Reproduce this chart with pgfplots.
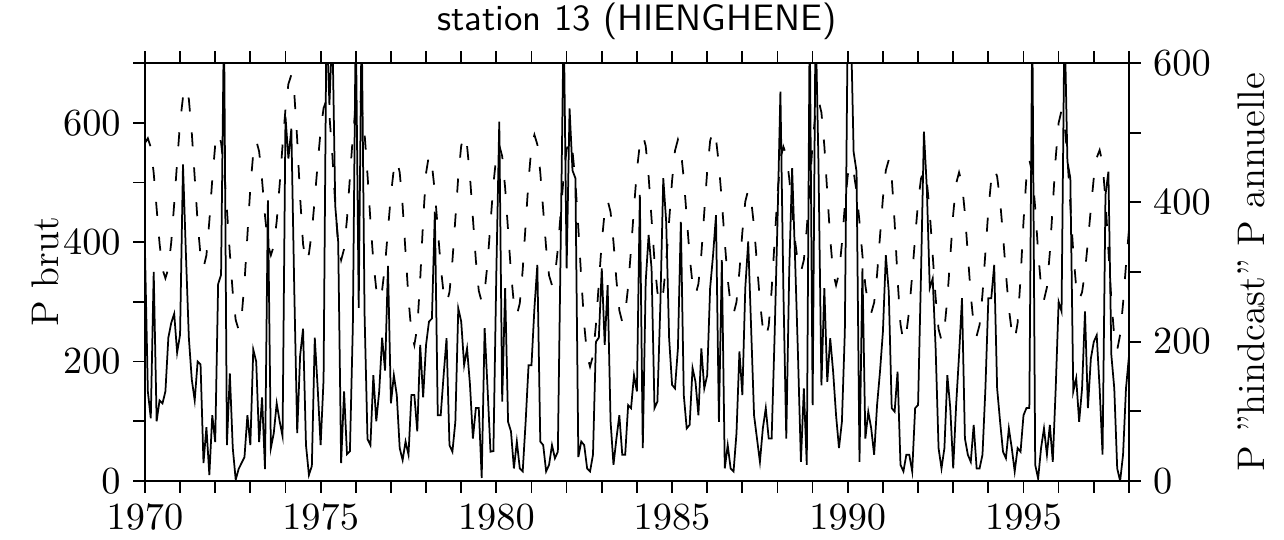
\documentclass[border=0pt]{standalone}
\usepackage{pgfplots}
\pgfplotsset{compat=1.18}
\usepackage{pgfplotstable}

% monthly rainfall, Jan 1970 .. Jan 1998 (left axis)
\pgfplotstableread[row sep=\\]{
rain\\
390\\150\\105\\350\\100\\135\\130\\150\\240\\265\\280\\215\\
245\\530\\380\\240\\170\\135\\200\\195\\30\\90\\10\\110\\
65\\330\\345\\780\\60\\180\\55\\2\\20\\30\\40\\110\\
60\\220\\200\\65\\140\\20\\470\\55\\80\\130\\100\\75\\
610\\540\\590\\320\\80\\210\\255\\60\\10\\25\\240\\155\\
60\\170\\780\\630\\760\\460\\400\\30\\150\\45\\50\\260\\
780\\290\\780\\280\\70\\60\\177\\100\\150\\240\\185\\360\\
130\\177\\144\\55\\35\\66\\44\\144\\144\\83\\228\\140\\
228\\267\\272\\451\\110\\110\\177\\239\\60\\49\\99\\289\\
267\\194\\222\\161\\71\\122\\122\\5\\256\\155\\49\\50\\
350\\602\\133\\323\\99\\83\\21\\66\\21\\16\\99\\194\\
194\\289\\362\\66\\60\\16\\27\\60\\38\\49\\406\\780\\
356\\624\\520\\507\\40\\66\\60\\21\\16\\44\\233\\240\\
356\\228\\328\\100\\27\\71\\110\\44\\44\\127\\122\\177\\
150\\479\\55\\334\\412\\356\\122\\133\\295\\507\\434\\239\\
161\\155\\222\\434\\144\\88\\94\\189\\166\\110\\222\\155\\
177\\323\\378\\445\\99\\370\\21\\60\\21\\16\\80\\217\\
144\\323\\401\\256\\110\\71\\32\\88\\122\\71\\71\\240\\
434\\652\\323\\71\\350\\524\\373\\211\\32\\155\\27\\780\\
127\\780\\530\\160\\323\\166\\239\\183\\110\\55\\99\\250\\
780\\780\\551\\518\\32\\356\\71\\116\\88\\44\\127\\183\\
250\\378\\317\\122\\116\\183\\27\\16\\44\\44\\16\\122\\
127\\345\\585\\490\\323\\339\\222\\55\\21\\55\\177\\122\\
21\\127\\211\\306\\71\\44\\32\\94\\21\\21\\44\\155\\
306\\306\\362\\155\\100\\49\\38\\88\\55\\16\\55\\49\\
110\\122\\122\\780\\27\\4\\55\\88\\44\\94\\32\\155\\
300\\284\\780\\535\\507\\150\\172\\99\\155\\284\\122\\205\\
233\\244\\155\\44\\479\\518\\211\\155\\21\\0\\44\\155\\
208\\
}\rain

% annual cycle "hindcast" (right axis)
\pgfplotstableread[row sep=\\]{
hind\\
485\\492\\479\\442\\391\\341\\304\\291\\305\\343\\398\\458\\
514\\551\\565\\548\\500\\436\\371\\323\\306\\324\\373\\433\\
482\\500\\486\\447\\390\\327\\270\\231\\217\\235\\285\\353\\
421\\471\\489\\473\\432\\381\\340\\324\\337\\373\\425\\482\\
534\\570\\583\\557\\490\\407\\340\\314\\326\\358\\405\\456\\
503\\535\\547\\525\\468\\396\\339\\317\\333\\376\\436\\495\\
538\\554\\539\\499\\440\\374\\315\\275\\260\\274\\310\\361\\
411\\448\\461\\443\\395\\328\\262\\213\\195\\221\\289\\374\\
442\\468\\454\\415\\362\\308\\269\\255\\271\\316\\376\\437\\
481\\497\\481\\437\\377\\317\\273\\257\\272\\313\\370\\426\\
467\\482\\466\\421\\360\\299\\254\\238\\255\\303\\368\\432\\
480\\497\\483\\443\\389\\335\\295\\281\\295\\333\\386\\438\\
476\\490\\474\\429\\363\\291\\225\\180\\164\\180\\224\\284\\
343\\387\\403\\386\\343\\288\\245\\228\\241\\279\\333\\392\\
446\\484\\497\\481\\437\\376\\316\\271\\255\\271\\314\\373\\
431\\474\\490\\475\\434\\379\\323\\282\\267\\283\\326\\386\\
445\\488\\504\\491\\454\\401\\343\\290\\253\\240\\257\\301\\
357\\401\\418\\404\\365\\312\\258\\219\\205\\223\\274\\343\\
411\\462\\480\\468\\435\\390\\345\\312\\300\\317\\362\\424\\
485\\530\\547\\529\\481\\414\\348\\299\\281\\298\\341\\395\\
439\\455\\444\\415\\372\\324\\281\\252\\241\\256\\296\\351\\
406\\446\\461\\436\\371\\290\\225\\200\\212\\246\\296\\350\\
400\\434\\446\\430\\385\\324\\263\\218\\202\\218\\262\\322\\
383\\427\\443\\427\\384\\325\\267\\224\\208\\224\\268\\328\\
389\\433\\449\\437\\403\\353\\298\\248\\214\\202\\227\\291\\
372\\436\\461\\442\\392\\329\\279\\260\\278\\328\\396\\464\\
514\\532\\514\\464\\396\\328\\278\\260\\271\\300\\344\\391\\
435\\464\\475\\456\\403\\331\\260\\207\\188\\210\\255\\310\\
360\\
}\hind

\begin{document}
\begin{tikzpicture}
\path[use as bounding box] (-41.4pt,-16.6pt) rectangle (325.4pt,137.4pt);
\pgfplotsset{
  every axis/.append style={
    scale only axis, width=281.1pt, height=119.4pt,
    xmin=1970, xmax=1998,
    tick align=outside,
    major tick length=3.4pt, minor tick length=3.4pt,
    every tick/.style={black, line width=0.5pt},
    axis line style={line width=0.6pt},
    tick label style={font=\fontsize{11}{13}\selectfont},
    label style={font=\fontsize{11}{13}\selectfont},
  }
}
\begin{axis}[
  ymin=0, ymax=700,
  xtick={1970,1975,...,1995},
  minor xtick={1970,...,1998},
  xticklabel style={/pgf/number format/1000 sep={}},
  ytick={0,200,400,600},
  minor ytick={100,300,500,700},
  ytick pos=left,
  ylabel={P brut},
  ylabel style={at={(axis description cs:-0.1017,0.5)}, anchor=center},
  clip mode=individual,
]
\addplot[black, line width=0.5pt] table[x expr=1970+\coordindex/12, y=rain]{\rain};
\node[font=\sffamily\fontsize{10.5}{12}\selectfont, anchor=center]
  at (axis description cs:0.5,1.10) {station 13 (HIENGHENE)};
\end{axis}
\begin{axis}[
  ymin=0, ymax=600,
  axis x line=none,
  axis y line*=right,
  ytick={0,200,400,600},
  minor ytick={100,300,500},
  ylabel={P "hindcast" P annuelle},
  ylabel style={at={(axis description cs:1.1245,0.5)}, anchor=center},
]
\addplot[black, line width=0.5pt, dash pattern=on 4pt off 6pt] table[x expr=1970+\coordindex/12, y=hind]{\hind};
\end{axis}
\end{tikzpicture}
\end{document}
